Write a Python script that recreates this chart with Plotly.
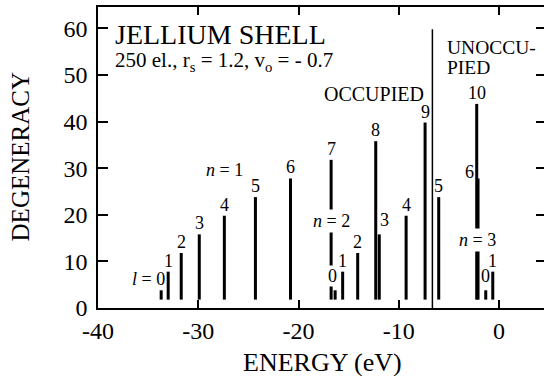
import plotly.graph_objects as go

# ---------------- data ----------------
# n = 1 series, l = 0..10
n1_l = [0, 1, 2, 3, 4, 5, 6, 7, 8, 9, 10]
n1_energy = [-33.7, -33.0, -31.7, -29.9, -27.4, -24.3, -20.8, -16.75, -12.3, -7.38, -2.23]
n1_degeneracy = [2, 6, 10, 14, 18, 22, 26, 30, 34, 38, 42]
# n = 2 series, l = 0..6
n2_l = [0, 1, 2, 3, 4, 5, 6]
n2_energy = [-16.35, -15.6, -14.1, -11.95, -9.27, -6.02, -2.1]
n2_degeneracy = [2, 6, 10, 14, 18, 22, 26]
# n = 3 series, l = 0..1
n3_l = [0, 1]
n3_energy = [-1.33, -0.63]
n3_degeneracy = [2, 6]

fermi_energy = -6.65
fermi_line_top = 59.8

x_tickvals = [-40, -30, -20, -10, 0]
x_ticktext = ["-40", "-30", "-20", "-10", "0"]
y_tickvals = [0, 10, 20, 30, 40, 50, 60]
y_ticktext = ["0", "10", "20", "30", "40", "50", "60"]

# ---------------- style ----------------
FONT = "Liberation Serif, Times New Roman, Times, serif"
BAR_BASE = 1.8
BAR_W = 0.3
LBL_SIZE = 18

fig = go.Figure()

series = [(1, n1_l, n1_energy, n1_degeneracy),
          (2, n2_l, n2_energy, n2_degeneracy),
          (3, n3_l, n3_energy, n3_degeneracy)]

for n, ls, es, ds in series:
    fig.add_trace(go.Bar(
        x=es, y=ds, base=BAR_BASE, width=BAR_W,
        marker=dict(color="black", line=dict(width=0)),
        showlegend=False, hoverinfo="skip"))

# invisible trace to activate the mirrored right axis
fig.add_trace(go.Scatter(x=[-39], y=[1], yaxis="y2", mode="markers",
                         marker=dict(opacity=0), showlegend=False, hoverinfo="skip"))

# per-label adjustments: (n, l) -> dict
adjust = {
    (1, 0): dict(text="<i>l</i> = 0", xanchor="right", xshift=5, yshift=0),
    (2, 0): dict(xshift=-3, yshift=3, bgcolor="white"),
    (2, 3): dict(xshift=5, yshift=3),
    (2, 6): dict(xanchor="right", xshift=-3, yshift=-5),
    (3, 0): dict(yshift=3),
}

annotations = []
for n, ls, es, ds in series:
    for l, e, d in zip(ls, es, ds):
        a = dict(x=e, y=BAR_BASE + d, xref="x", yref="y", text=str(l),
                 showarrow=False, xanchor="center", yanchor="bottom",
                 font=dict(family=FONT, size=LBL_SIZE, color="black"),
                 borderpad=0)
        a.update(adjust.get((n, l), {}))
        annotations.append(a)

# n-labels (white background covers the bar behind)
for txt, x, y in [("<i>n</i> = 1", -27.4, 29.7), ("<i>n</i> = 2", -16.73, 18.6),
                  ("<i>n</i> = 3", -2.19, 14.5)]:
    annotations.append(dict(x=x, y=y, xref="x", yref="y", text=txt, showarrow=False,
                            xanchor="center", yanchor="middle", bgcolor="white",
                            borderpad=1,
                            font=dict(family=FONT, size=LBL_SIZE, color="black")))

# titles / texts (multi-line blocks; line spacing follows the base font size)
annotations += [
    dict(x=-38.5, y=56.0, xref="x", yref="y",
         text=("<span style='font-size:28px'>JELLIUM SHELL</span><br>"
               "<span style='font-size:21px'>250 el., r<sub>s</sub> = 1.2, "
               "v<sub>o</sub> = - 0.7</span>"),
         showarrow=False, align="left", xanchor="left", yanchor="middle",
         font=dict(family=FONT, size=18, color="black")),
    dict(x=-17.7, y=46.0, xref="x", yref="y", text="OCCUPIED", showarrow=False,
         xanchor="left", yanchor="middle", font=dict(family=FONT, size=20, color="black")),
    dict(x=-5.4, y=53.7, xref="x", yref="y",
         text="<span style='font-size:19.5px'>UNOCCU-<br>PIED</span>",
         showarrow=False, align="left", xanchor="left", yanchor="middle",
         font=dict(family=FONT, size=15.5, color="black")),
    # axis titles
    dict(x=0.5028, y=-0.18, xref="paper", yref="paper", text="ENERGY (eV)",
         showarrow=False, xanchor="center", yanchor="middle",
         font=dict(family=FONT, size=26, color="black")),
    dict(x=-0.173, y=0.503, xref="paper", yref="paper", text="DEGENERACY",
         showarrow=False, xanchor="center", yanchor="middle", textangle=-90,
         font=dict(family=FONT, size=25, color="black")),
]

fig.add_shape(type="line", x0=fermi_energy, x1=fermi_energy, y0=0, y1=fermi_line_top,
              xref="x", yref="y", line=dict(color="black", width=1.5))

fig.update_layout(
    width=544, height=376,
    margin=dict(l=97.5, r=0, t=7, b=67.5, autoexpand=False),
    paper_bgcolor="white", plot_bgcolor="white",
    barmode="overlay",
    annotations=annotations,
    font=dict(family=FONT, color="black"),
    xaxis=dict(range=[-40, 4.48], tickvals=x_tickvals, ticktext=x_ticktext,
               ticks="inside", ticklen=8, tickwidth=1.5, tickcolor="black",
               showline=True, linecolor="black", linewidth=1.5, mirror="ticks",
               showgrid=False, zeroline=False, automargin=False,
               tickfont=dict(family=FONT, size=24, color="black")),
    yaxis=dict(range=[0, 64.6], tickvals=y_tickvals, ticktext=y_ticktext,
               ticks="inside", ticklen=10, tickwidth=1.5, tickcolor="black",
               showline=True, linecolor="black", linewidth=1.5, mirror=False,
               showgrid=False, zeroline=False, ticklabelstandoff=4, automargin=False,
               tickfont=dict(family=FONT, size=24, color="black")),
    yaxis2=dict(range=[0, 64.6], tickvals=y_tickvals, overlaying="y", side="right",
                ticks="inside", ticklen=8, tickwidth=1.5, tickcolor="black",
                showticklabels=False, showline=False, showgrid=False, zeroline=False,
                automargin=False),
)

fig.write_html("out.html")
